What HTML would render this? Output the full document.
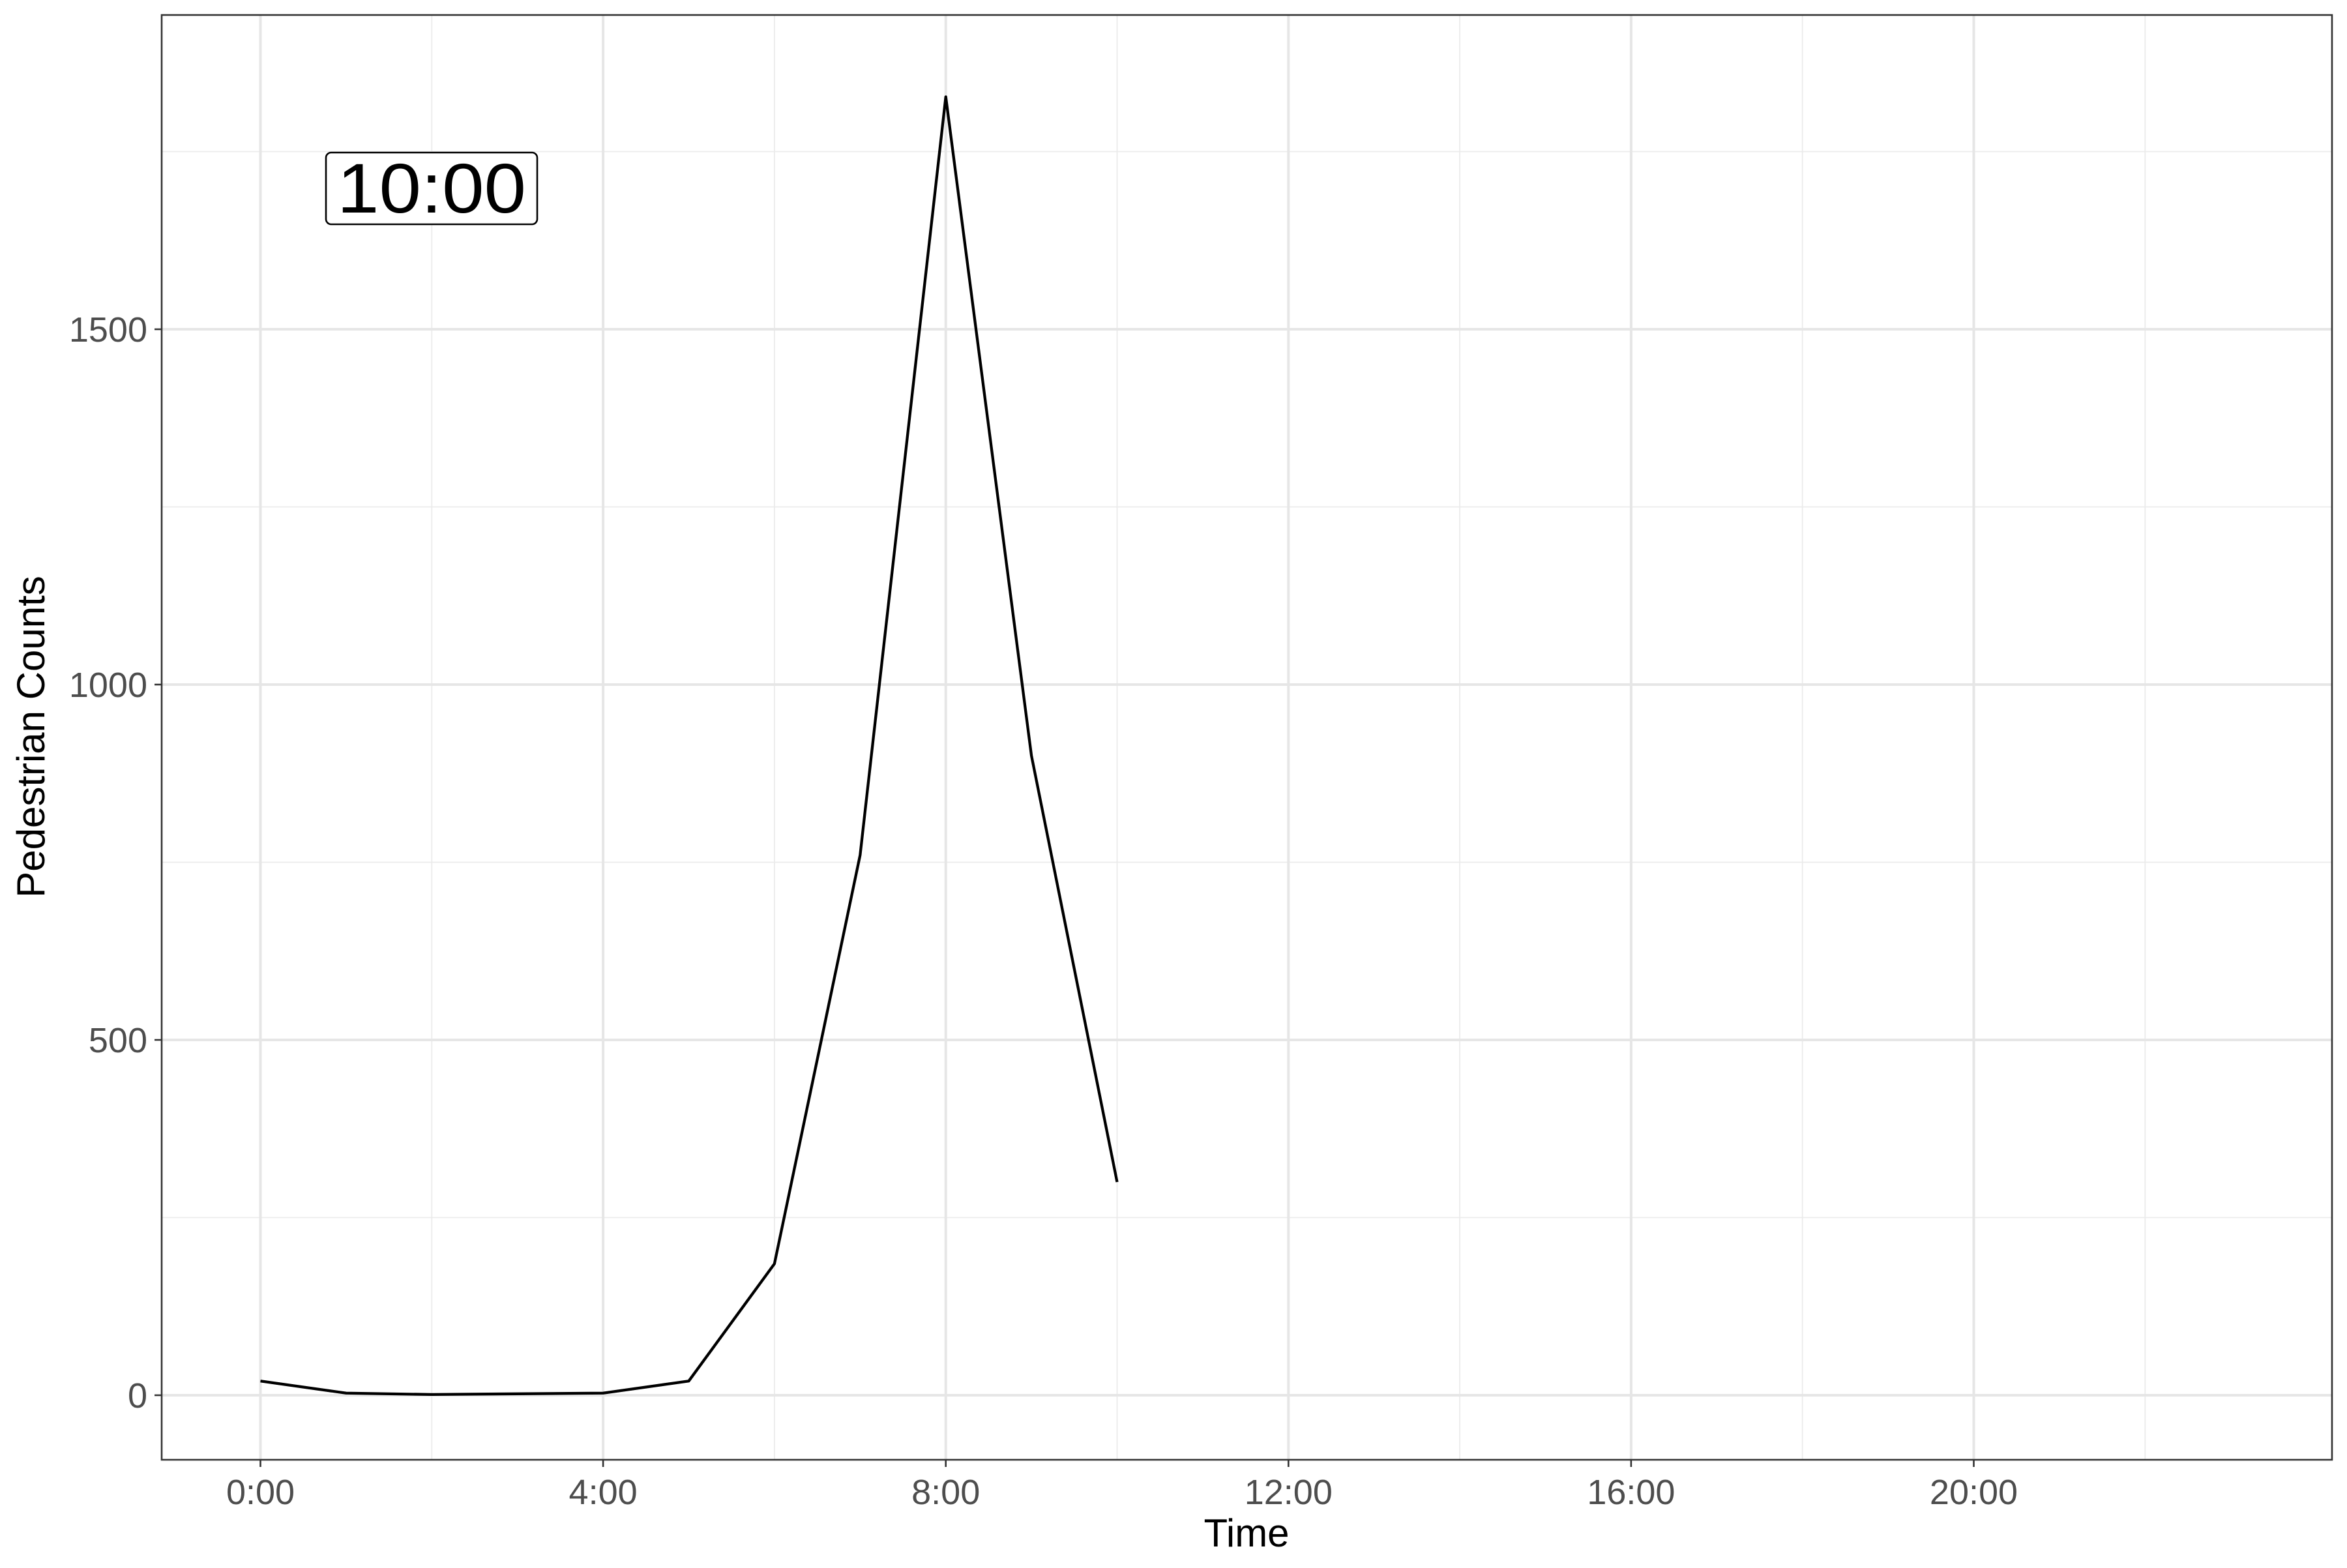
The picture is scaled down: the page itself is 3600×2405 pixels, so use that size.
<!DOCTYPE html>
<html><head><meta charset="utf-8"><style>
body{margin:0;background:#fff;}
svg text{font-family:"Liberation Sans",Arial,sans-serif;}
</style></head><body>
<svg id="chart" width="3600" height="2400" viewBox="0 0 3600 2400" xmlns="http://www.w3.org/2000/svg">
<rect width="3600" height="2400" fill="#fff"/>
<g id="grid"></g>
<g id="series"></g>
<rect x="248" y="23" width="3329" height="2216" fill="none" stroke="#333" stroke-width="2.6"/>
<g id="axes"></g>
<g>
<rect x="500" y="234" width="324" height="110" rx="8" fill="#fff" stroke="#000" stroke-width="2.6"/>
<text x="662" y="326" font-size="108" text-anchor="middle" textLength="290" lengthAdjust="spacingAndGlyphs">10:00</text>
</g>
<text x="1912" y="2372" font-size="60" text-anchor="middle">Time</text>
<text transform="translate(68,1130) rotate(-90)" font-size="60" text-anchor="middle">Pedestrian Counts</text>
</svg>
<script>
const hours=[0,1,2,3,4,5,6,7,8,9,10];
const counts=[20,3,1,2,3,20,185,760,1827,900,300];
const xTicks=[0,4,8,12,16,20];
const xTickLabels=["0:00","4:00","8:00","12:00","16:00","20:00"];
const xMinor=[2,6,10,14,18,22];
const yTicks=[0,500,1000,1500];
const yMinor=[250,750,1250,1750];
const L=248,R=3577,T=23,B=2239;
const xs=h=>399.5+h*131.4;
const ys=v=>2140-v*(1635/1500);
const NS="http://www.w3.org/2000/svg";
function mk(tag,parent,attrs){const e=document.createElementNS(NS,tag);for(const k in attrs)e.setAttribute(k,attrs[k]);parent.appendChild(e);return e;}
const grid=document.getElementById('grid'),axes=document.getElementById('axes'),series=document.getElementById('series');
yMinor.forEach(v=>{const l=mk('line',grid,{x1:L,x2:R,y1:ys(v),y2:ys(v),stroke:'#ebebeb','stroke-width':1.8});

});
xMinor.forEach(h=>{const l=mk('line',grid,{x1:xs(h),x2:xs(h),y1:T,y2:B,stroke:'#ebebeb','stroke-width':1.8});

});
yTicks.forEach(v=>{const l=mk('line',grid,{x1:L,x2:R,y1:ys(v),y2:ys(v),stroke:'#e6e6e6','stroke-width':4});


const t=mk('line',axes,{x1:L-11,x2:L,y1:ys(v),y2:ys(v),stroke:'#333','stroke-width':2.6});


const tx=mk('text',axes,{x:L-22,y:ys(v)+19,'font-size':54,'text-anchor':'end',fill:'#4d4d4d'});tx.textContent=v;

});
xTicks.forEach((h,i)=>{const l=mk('line',grid,{x1:xs(h),x2:xs(h),y1:T,y2:B,stroke:'#e6e6e6','stroke-width':4});


const t=mk('line',axes,{x1:xs(h),x2:xs(h),y1:B,y2:B+11,stroke:'#333','stroke-width':2.6});


const tx=mk('text',axes,{x:xs(h),y:B+68,'font-size':54,'text-anchor':'middle',fill:'#4d4d4d'});tx.textContent=xTickLabels[i];

});
const p=mk('polyline',series,{points:hours.map((h,i)=>xs(h)+','+ys(counts[i])).join(' '),fill:'none',stroke:'#000','stroke-width':4.3,'stroke-linejoin':'round'});


</script>
</body></html>
